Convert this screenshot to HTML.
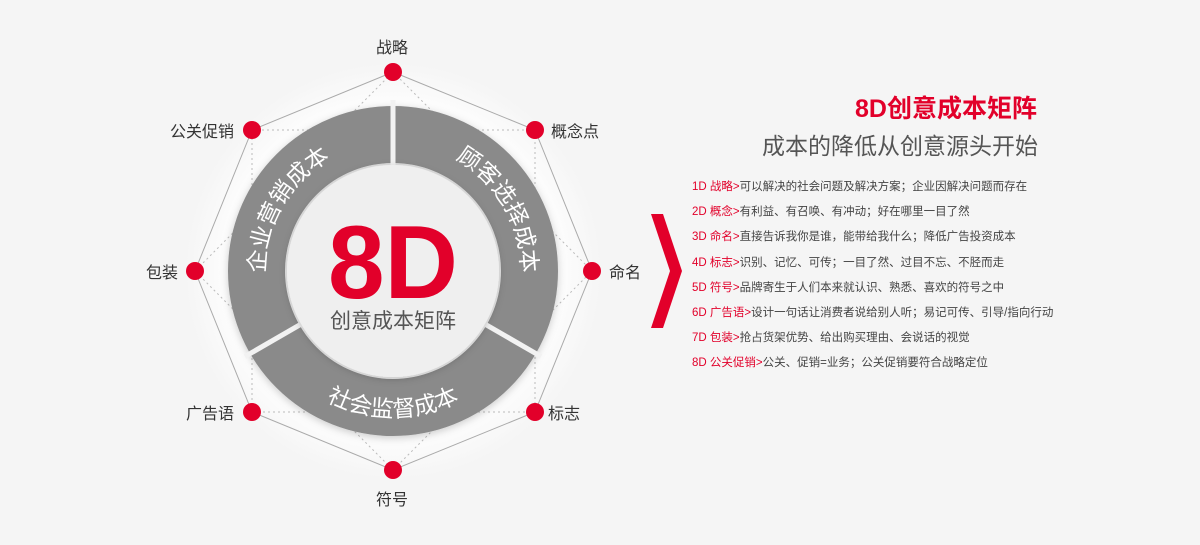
<!DOCTYPE html>
<html><head><meta charset="utf-8"><style>
html,body{margin:0;padding:0;background:#f5f5f5;}
body{width:1200px;height:545px;overflow:hidden;position:relative;font-family:"Liberation Sans","Noto Sans CJK SC",sans-serif;}
.t{position:absolute;color:#333;font-size:16px;white-space:nowrap;}
.list{position:absolute;left:692px;top:175px;font-size:11.5px;color:#444;line-height:25.2px;white-space:nowrap;}
.list b{font-weight:normal;color:#e2002a;}
</style></head><body>
<svg width="1200" height="545" style="position:absolute;left:0;top:0">
<defs>
<radialGradient id="g" cx="50%" cy="50%" r="50%">
<stop offset="80%" stop-color="#fdfdfd"/><stop offset="100%" stop-color="#f5f5f5"/>
</radialGradient>
<filter id="sh" x="-20%" y="-20%" width="140%" height="140%"><feDropShadow dx="0" dy="2" stdDeviation="4" flood-color="#000" flood-opacity="0.2"/></filter>
<path id="pl" d="M272.7,314.8 A128,128 0 0 1 370.8,144.9"/>
<path id="pr" d="M415.2,144.9 A128,128 0 0 1 513.3,314.8"/>
<path id="pb" d="M281.2,364.8 A146,146 0 0 0 504.8,364.8"/>
</defs>
<circle cx="393" cy="271" r="208" fill="url(#g)"/>
<g stroke="#aaa" stroke-width="1" fill="none">
<polygon points="393,72 535,130 592,271 535,412 393,470 252,412 195,271 252,130"/>
</g>
<g stroke="#bbb" stroke-width="1" fill="none" stroke-dasharray="2,3">
<polygon points="393,72 592,271 393,470 195,271"/>
<polygon points="252,130 535,130 535,412 252,412"/>
</g>
<circle cx="393" cy="271" r="136.5" fill="none" stroke="#8a8a8a" stroke-width="57" filter="url(#sh)"/>
<g stroke="#f2f2f2" stroke-width="5">
<line x1="393" y1="271" x2="393" y2="100"/>
<line x1="393" y1="271" x2="541" y2="356.5"/>
<line x1="393" y1="271" x2="245" y2="356.5"/>
</g>
<circle cx="393" cy="271" r="106" fill="#efefef" filter="url(#sh)"/>
<g font-family="Liberation Sans,Noto Sans CJK SC,sans-serif" font-size="23" fill="#fff">
<text><textPath href="#pl" startOffset="50%" text-anchor="middle">企业营销成本</textPath></text>
<text><textPath href="#pr" startOffset="50%" text-anchor="middle">顾客选择成本</textPath></text>
<text><textPath href="#pb" startOffset="50%" text-anchor="middle">社会监督成本</textPath></text>
</g>
<text x="393" y="298" text-anchor="middle" font-family="Liberation Sans,sans-serif" font-weight="bold" font-size="104" fill="#e2002a" textLength="130" lengthAdjust="spacingAndGlyphs">8D</text>
<text x="393" y="328" text-anchor="middle" font-family="Liberation Sans,Noto Sans CJK SC,sans-serif" font-size="21" fill="#555">创意成本矩阵</text>
<g fill="#e2002a">
<circle cx="393" cy="72" r="9"/><circle cx="535" cy="130" r="9"/><circle cx="592" cy="271" r="9"/><circle cx="535" cy="412" r="9"/>
<circle cx="393" cy="470" r="9"/><circle cx="252" cy="412" r="9"/><circle cx="195" cy="271" r="9"/><circle cx="252" cy="130" r="9"/>
<polygon points="651,214 663,214 682,271 663,328 651,328 670,271"/>
</g>
</svg>
<div class="t" style="left:376px;top:34px">战略</div>
<div class="t" style="left:551px;top:118px">概念点</div>
<div class="t" style="left:609px;top:259px">命名</div>
<div class="t" style="left:548px;top:400px">标志</div>
<div class="t" style="left:376px;top:486px">符号</div>
<div class="t" style="left:186px;top:400px">广告语</div>
<div class="t" style="left:146px;top:259px">包装</div>
<div class="t" style="left:170px;top:118px">公关促销</div>
<div class="t" style="right:163px;top:89px;font-size:25px;color:#e2002a;font-weight:bold">8D创意成本矩阵</div>
<div class="t" style="left:762px;top:127px;font-size:23px;color:#555">成本的降低从创意源头开始</div>
<div class="list">
<div><b>1D 战略&gt;</b>可以解决的社会问题及解决方案；企业因解决问题而存在</div>
<div><b>2D 概念&gt;</b>有利益、有召唤、有冲动；好在哪里一目了然</div>
<div><b>3D 命名&gt;</b>直接告诉我你是谁，能带给我什么；降低广告投资成本</div>
<div><b>4D 标志&gt;</b>识别、记忆、可传；一目了然、过目不忘、不胫而走</div>
<div><b>5D 符号&gt;</b>品牌寄生于人们本来就认识、熟悉、喜欢的符号之中</div>
<div><b>6D 广告语&gt;</b>设计一句话让消费者说给别人听；易记可传、引导/指向行动</div>
<div><b>7D 包装&gt;</b>抢占货架优势、给出购买理由、会说话的视觉</div>
<div><b>8D 公关促销&gt;</b>公关、促销=业务；公关促销要符合战略定位</div>
</div>
</body></html>
